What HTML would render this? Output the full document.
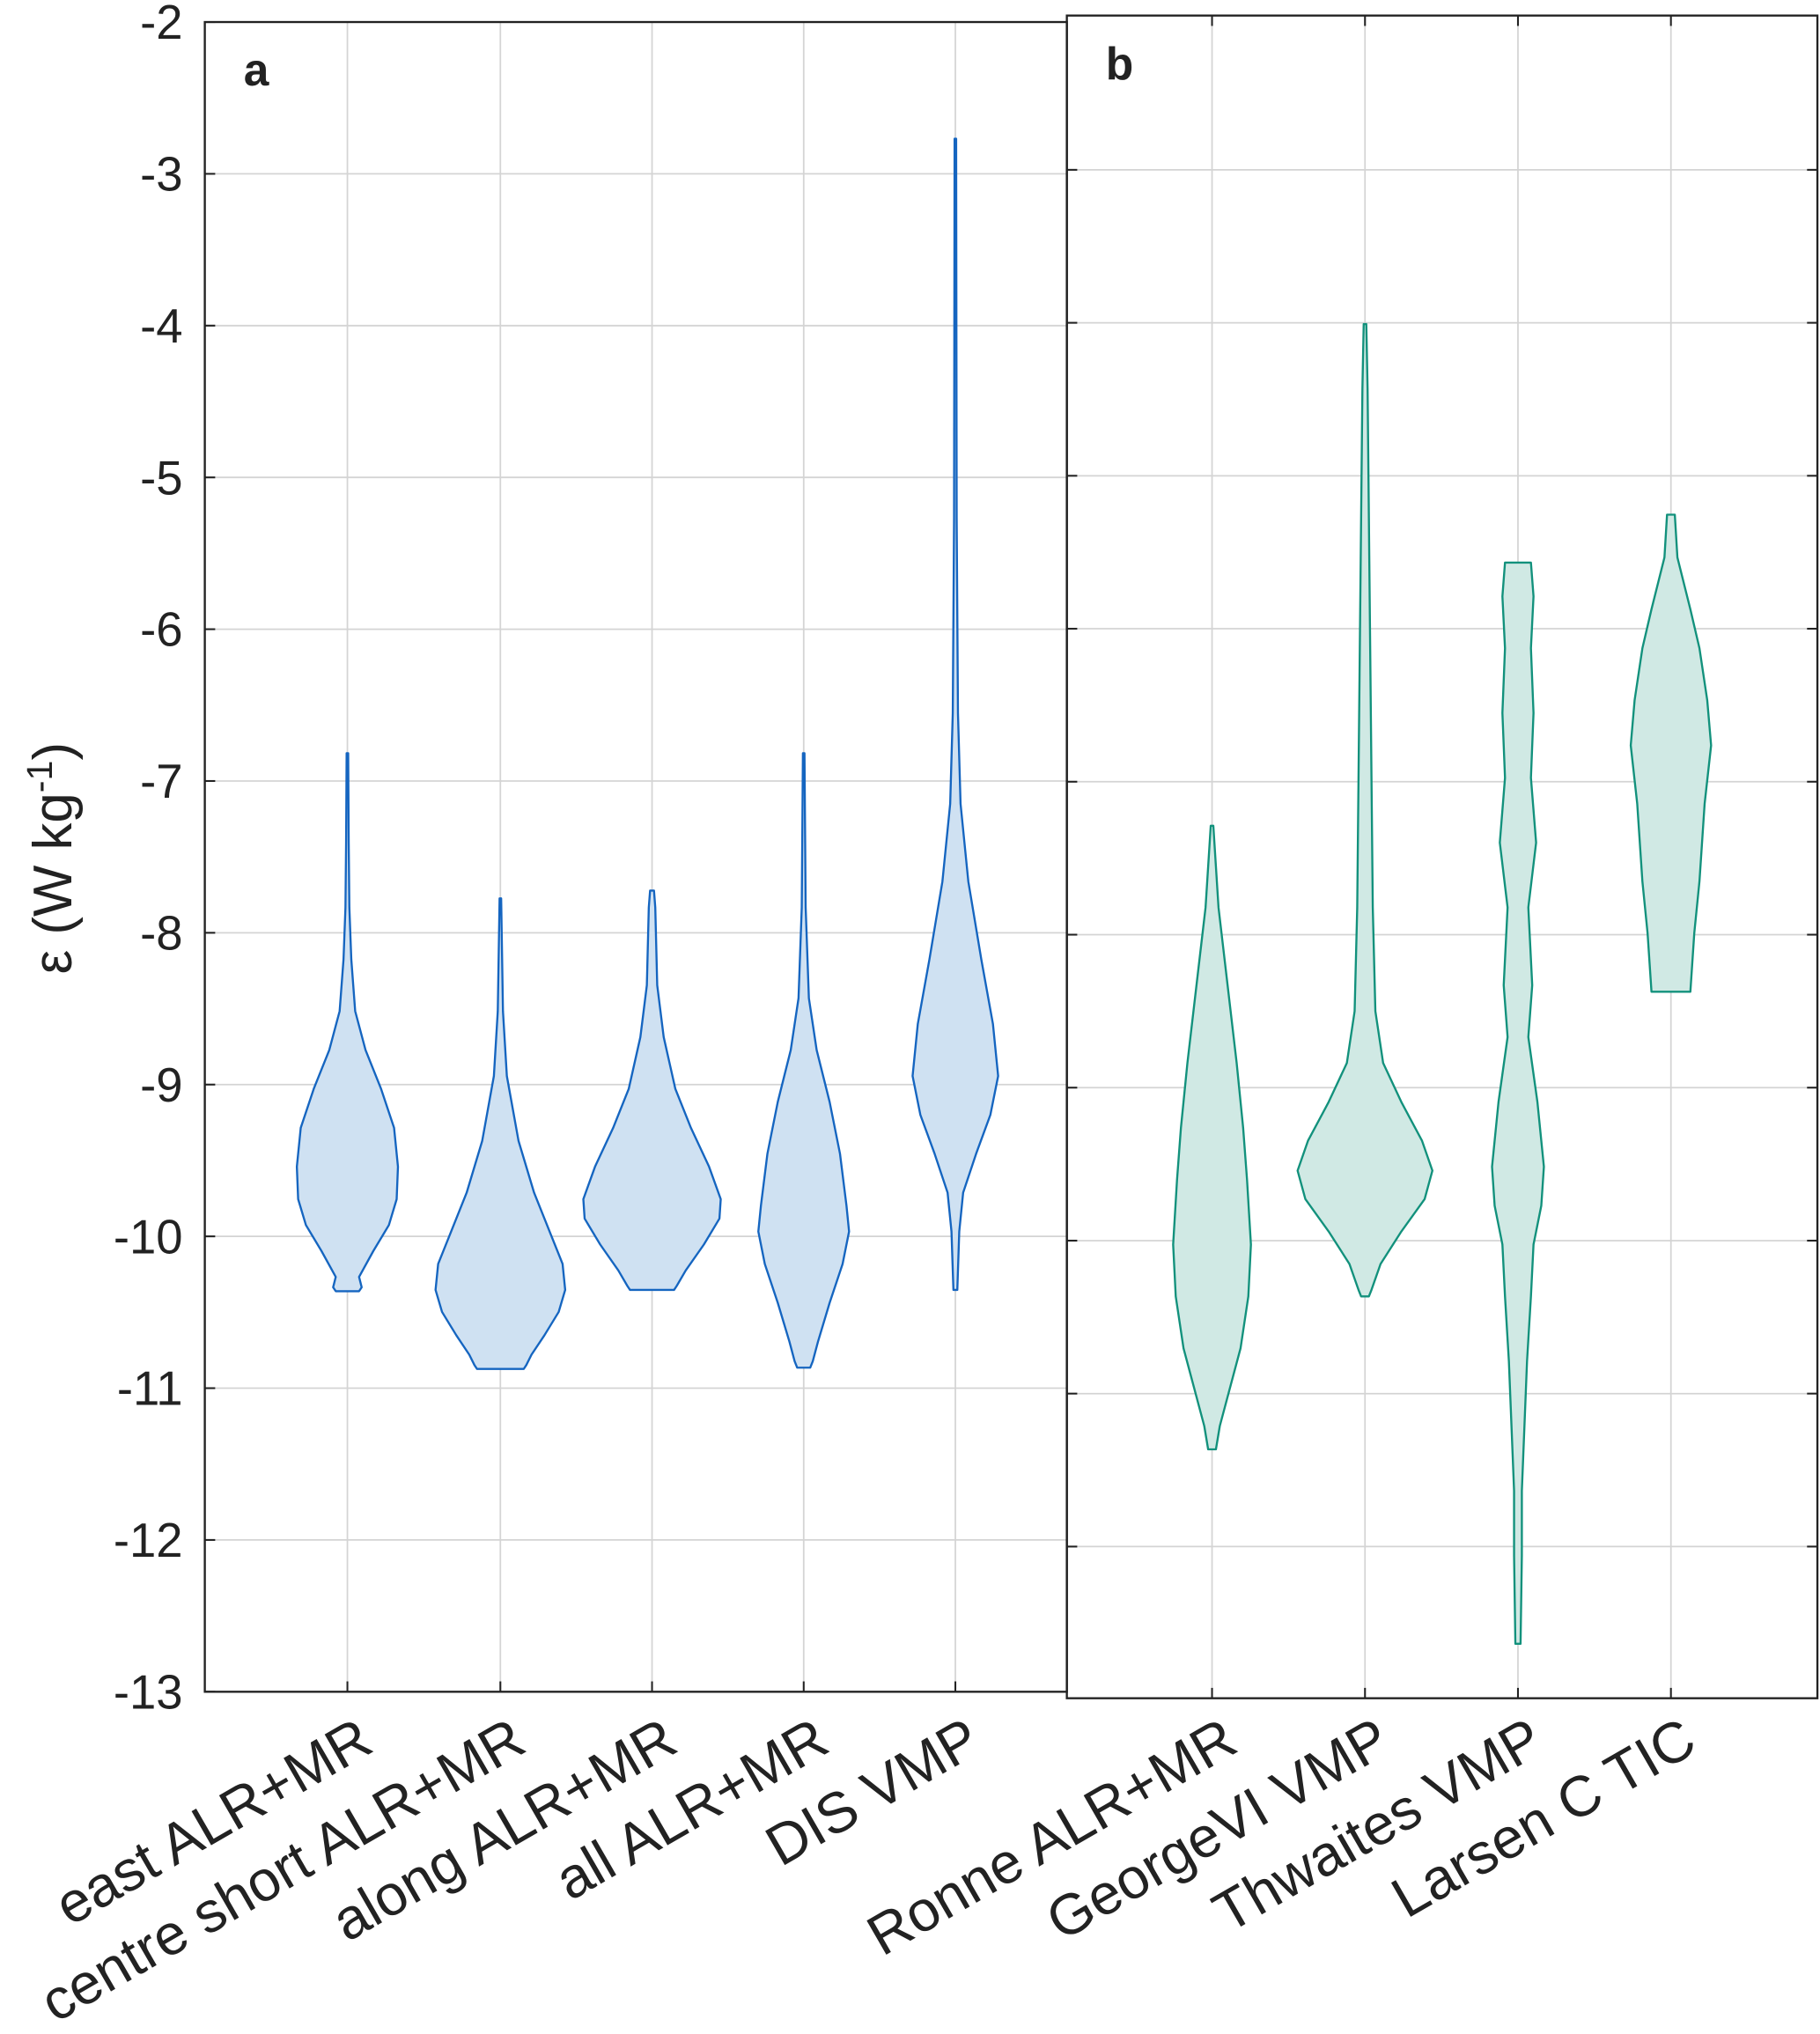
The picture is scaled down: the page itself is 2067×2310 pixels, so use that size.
<!DOCTYPE html>
<html><head><meta charset="utf-8">
<style>
html,body{margin:0;padding:0;background:#fff}
svg{display:block}
text{font-family:"Liberation Sans",Arial,sans-serif;fill:#222}
</style></head>
<body>
<svg id="s" width="2067" height="2310" viewBox="0 0 1404 1569" preserveAspectRatio="none" xmlns="http://www.w3.org/2000/svg">
<rect width="1404" height="1569" fill="#fff"/>
<g id="grid" stroke="#d4d4d4" stroke-width="1.2"></g>
<g id="vio"></g>
<rect x="158" y="17" width="665" height="1288" fill="none" stroke="#222" stroke-width="1.6"/>
<rect x="823" y="12" width="579" height="1298" fill="none" stroke="#222" stroke-width="1.6"/>
<g id="ticks" stroke="#222" stroke-width="1.4"></g>
<g id="lab" font-size="37" text-anchor="end"></g>
<text x="188" y="66" font-size="35" font-weight="bold">a</text>
<text x="853" y="61" font-size="35" font-weight="bold">b</text>
<text transform="translate(55,662) rotate(-90)" font-size="42" text-anchor="middle">ε (W kg<tspan dy="-15" font-size="28">-1</tspan><tspan dy="15">)</tspan></text>
</svg>
<script>
var NS="http://www.w3.org/2000/svg";
function el(p,t,a,txt){var e=document.createElementNS(NS,t);for(var k in a)e.setAttribute(k,a[k]);if(txt!==undefined)e.textContent=txt;document.getElementById(p).appendChild(e);return e;}
var ax=[268,386,503,620,737], bx=[935,1053,1171,1289];
for(var i=0;i<=11;i++){var y=17+i*117.09;
 if(i>0&&i<11)el("grid","line",{x1:158,x2:823,y1:y,y2:y});
 el("lab","text",{x:141,y:y+13},String(-2-i));
 el("ticks","line",{x1:158,x2:166,y1:y,y2:y});}
ax.forEach(function(x){el("grid","line",{x1:x,x2:x,y1:17,y2:1305});el("ticks","line",{x1:x,x2:x,y1:1305,y2:1297});});
var by=[131,249,367,485,603,721,839,957,1075,1193];
by.forEach(function(y){el("grid","line",{x1:823,x2:1402,y1:y,y2:y});el("ticks","line",{x1:823,x2:831,y1:y,y2:y});el("ticks","line",{x1:1402,x2:1394,y1:y,y2:y});});
bx.forEach(function(x){el("grid","line",{x1:x,x2:x,y1:12,y2:1310});el("ticks","line",{x1:x,x2:x,y1:1310,y2:1302});el("ticks","line",{x1:x,x2:x,y1:12,y2:20});});
function vio(x,pts,st,fi){var L="",R="";pts.forEach(function(p,i){L+=(i?"L":"M")+(x-p[1])+","+p[0];});
 for(var i=pts.length-1;i>=0;i--)R+="L"+(x+pts[i][1])+","+pts[i][0];
 el("vio","path",{d:L+R+"Z",fill:fi,stroke:st,"stroke-width":1.6,"stroke-linejoin":"round"});}
var A="#1565c0",AF="#cfe1f2",B="#12917c",BF="#d0e9e4";
vio(268,[[581,0.6],[650,1],[700,1.5],[740,3],[780,6],[810,14],[840,26],[870,36],[900,39],[925,38],[945,32],[965,20],[985,9],[993,11],[996,9]],A,AF);
vio(386,[[693,0.6],[780,2],[830,5],[880,14],[920,26],[950,38],[975,48],[995,50],[1012,45],[1030,34],[1045,24],[1053,20],[1056,18]],A,AF);
vio(503,[[687,1.5],[700,2.5],[760,4],[800,9],[840,18],[870,30],[900,44],[925,53],[940,52],[960,40],[980,26],[992,19],[995,17]],A,AF);
vio(620,[[581,0.6],[700,1.5],[770,4],[810,10],[850,20],[890,28],[930,33],[950,35],[975,30],[1005,20],[1035,11],[1050,7],[1055,5]],A,AF);
vio(737,[[107,0.6],[400,1],[550,2],[620,4],[680,10],[740,20],[790,29],[830,33],[860,27],[890,16],[920,6],[950,3],[995,1.5]],A,AF);
vio(935,[[637,1],[700,5],[760,12],[820,19],[870,24],[910,27],[960,30],[1000,28],[1040,22],[1070,14],[1100,6],[1118,3]],B,BF);
vio(1053,[[250,1],[300,2],[400,3],[500,4],[600,5],[700,6],[780,8],[820,14],[850,28],[880,44],[903,52],[925,46],[950,28],[975,12],[995,5],[1000,3]],B,BF);
vio(1171,[[434,10],[460,12],[500,10],[550,12],[600,10],[650,14],[700,8],[760,11],[800,8],[850,15],[900,20],[930,18],[960,12],[1000,10],[1050,7],[1100,5],[1150,3],[1200,3],[1268,2]],B,BF);
vio(1289,[[397,3],[430,5],[470,15],[500,22],[540,28],[575,31],[620,26],[680,22],[720,18],[765,15]],B,BF);
var la=["east ALR+MR","centre short ALR+MR","along ALR+MR","all ALR+MR","DIS VMP"];
var lb=["Ronne ALR+MR","GeorgeVI VMP","Thwaites VMP","Larsen C TIC"];
function xl(x,t){el("lab","text",{transform:"translate("+(x+22)+",1350) rotate(-30)","font-size":"44"},t);}
ax.forEach(function(x,i){xl(x,la[i]);});bx.forEach(function(x,i){xl(x,lb[i]);});
</script>
</body></html>
